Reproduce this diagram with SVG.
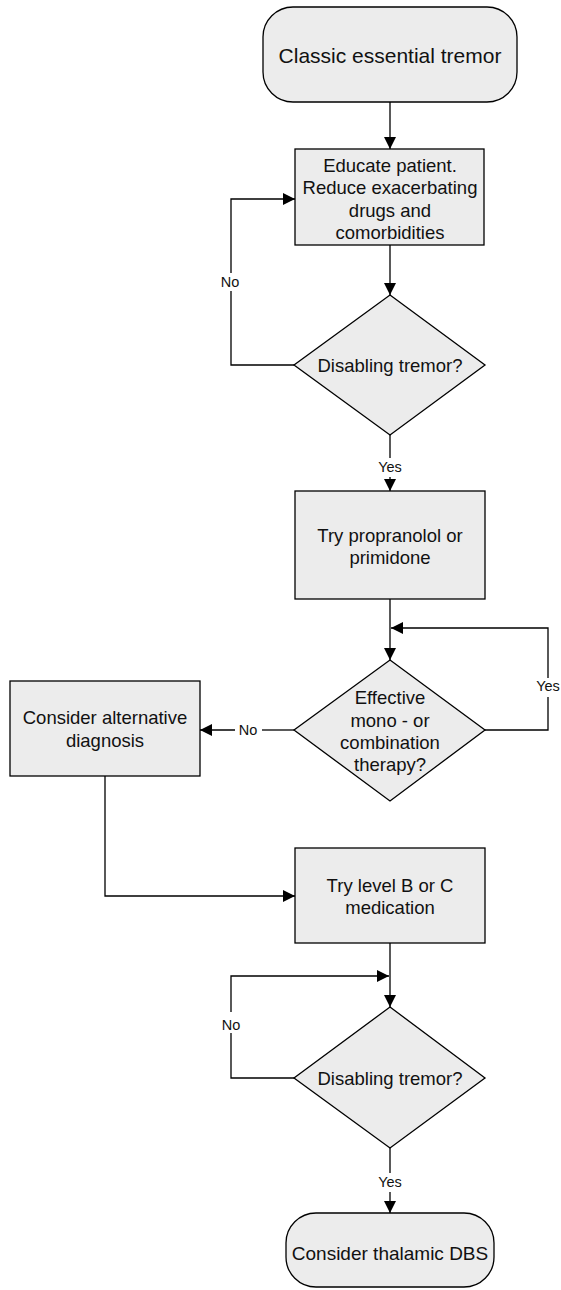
<svg xmlns="http://www.w3.org/2000/svg" width="561" height="1290" viewBox="0 0 561 1290">
  <style>
    .shape { fill: #ececec; stroke: #000; stroke-width: 1.3; }
    .txt { font-family: "Liberation Sans", Arial, sans-serif; font-size: 18.5px; fill: #111; text-anchor: middle; }
    .big { font-size: 21px; }
    .lbl { font-family: "Liberation Sans", Arial, sans-serif; font-size: 14.5px; fill: #111; text-anchor: middle; }
    .wire { fill: none; stroke: #000; stroke-width: 1.3; }
  </style>
  <defs>
    <marker id="arrow" viewBox="0 0 10 10" refX="10" refY="5" markerWidth="12" markerHeight="12" markerUnits="userSpaceOnUse" orient="auto">
      <path d="M0,0 L10,5 L0,10 z" fill="#000"/>
    </marker>
  </defs>
  <rect width="561" height="1290" fill="#fff"/>

  <g id="connectors">
    <path class="wire" d="M390,102 V149" marker-end="url(#arrow)"/>
    <path class="wire" d="M390,245 V295" marker-end="url(#arrow)"/>
    <path class="wire" d="M294,365 H231 V291"/>
    <path class="wire" d="M231,273 V199 H295" marker-end="url(#arrow)"/>
    <text class="lbl" x="230" y="287">No</text>
    <path class="wire" d="M390,435 V458"/>
    <path class="wire" d="M390,477 V491" marker-end="url(#arrow)"/>
    <text class="lbl" x="390" y="472">Yes</text>
    <path class="wire" d="M390,599 V660" marker-end="url(#arrow)"/>
    <path class="wire" d="M485,730 H548 V697"/>
    <path class="wire" d="M548,678 V628 H391" marker-end="url(#arrow)"/>
    <text class="lbl" x="548" y="691">Yes</text>
    <path class="wire" d="M294,730 H262"/>
    <path class="wire" d="M235,730 H200" marker-end="url(#arrow)"/>
    <text class="lbl" x="248" y="735">No</text>
    <path class="wire" d="M105,776 V896 H295" marker-end="url(#arrow)"/>
    <path class="wire" d="M390,943 V1007" marker-end="url(#arrow)"/>
    <path class="wire" d="M294,1078 H231 V1033"/>
    <path class="wire" d="M231,1012 V976 H389" marker-end="url(#arrow)"/>
    <text class="lbl" x="231" y="1030">No</text>
    <path class="wire" d="M390,1148 V1173"/>
    <path class="wire" d="M390,1192 V1213" marker-end="url(#arrow)"/>
    <text class="lbl" x="390" y="1187">Yes</text>
  </g>

  <g id="start">
    <rect class="shape" x="263" y="7" width="254" height="95" rx="30" ry="30"/>
    <text class="txt big" x="390" y="62.5">Classic essential tremor</text>
  </g>

  <g id="educate">
    <rect class="shape" x="295" y="149" width="189" height="96"/>
    <text class="txt" x="390" y="171.5">Educate patient.</text>
    <text class="txt" x="390" y="194">Reduce exacerbating</text>
    <text class="txt" x="390" y="216.5">drugs and</text>
    <text class="txt" x="390" y="239">comorbidities</text>
  </g>

  <g id="disabling1">
    <polygon class="shape" points="390,295 485,365 390,435 294,365"/>
    <text class="txt" x="390" y="371.5">Disabling tremor?</text>
  </g>

  <g id="propranolol">
    <rect class="shape" x="295" y="491" width="190" height="108"/>
    <text class="txt" x="390" y="541.5">Try propranolol or</text>
    <text class="txt" x="390" y="564">primidone</text>
  </g>

  <g id="effective">
    <polygon class="shape" points="390,660 485,730 390,801 294,730"/>
    <text class="txt" x="390" y="703.5">Effective</text>
    <text class="txt" x="390" y="726.5">mono - or</text>
    <text class="txt" x="390" y="748.5">combination</text>
    <text class="txt" x="390" y="770.5">therapy?</text>
  </g>

  <g id="alternative">
    <rect class="shape" x="10" y="681" width="190" height="95"/>
    <text class="txt" x="105" y="723.5">Consider alternative</text>
    <text class="txt" x="105" y="746.5">diagnosis</text>
  </g>

  <g id="levelbc">
    <rect class="shape" x="295" y="848" width="190" height="95"/>
    <text class="txt" x="390" y="891.5">Try level B or C</text>
    <text class="txt" x="390" y="913.5">medication</text>
  </g>

  <g id="disabling2">
    <polygon class="shape" points="390,1007 485,1078 390,1148 294,1078"/>
    <text class="txt" x="390" y="1084.5">Disabling tremor?</text>
  </g>

  <g id="dbs">
    <rect class="shape" x="286" y="1213" width="208" height="74" rx="30" ry="30"/>
    <text class="txt" x="390" y="1259.8" style="font-size:19px">Consider thalamic DBS</text>
  </g>
</svg>
